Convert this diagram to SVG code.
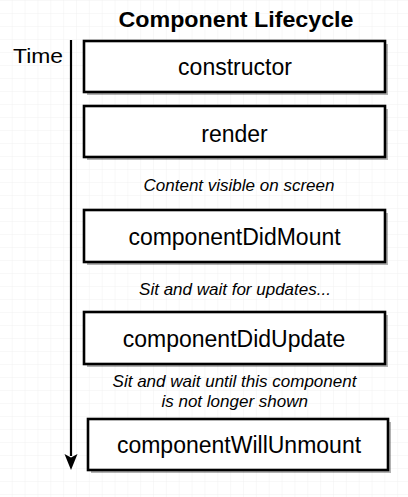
<svg xmlns="http://www.w3.org/2000/svg" width="408" height="497" viewBox="0 0 408 497">
<style>
.box{fill:#ffffff;stroke:#000000;stroke-width:2.6;}
.shadow{fill:#000000;opacity:0.3;}
.lbl{font-family:"Liberation Sans",Arial,Helvetica,sans-serif;font-size:23px;fill:#000;text-anchor:middle;}
.note{font-family:"Liberation Sans",Arial,Helvetica,sans-serif;font-size:17px;font-style:italic;fill:#000;text-anchor:middle;}
</style>
<defs>
<pattern id="grid" x="-0.15" y="1" width="12.85" height="13" patternUnits="userSpaceOnUse">
<path d="M12.85 0V13M0 13H12.85" fill="none" stroke="#eeeeee" stroke-width="0.8"/>
</pattern>
<marker id="arrow" viewBox="0 0 14 16" refX="7" refY="15" markerWidth="14" markerHeight="16" markerUnits="userSpaceOnUse" orient="auto-start-reverse">
<path d="M0 0L7 3.5L14 0L7 16Z" fill="#000"/>
</marker>
</defs>
<rect width="408" height="497" fill="#ffffff"/>
<rect width="408" height="497" fill="url(#grid)"/>
<text x="236" y="27" font-family="Liberation Sans,Arial,Helvetica,sans-serif" font-size="22" font-weight="bold" text-anchor="middle" textLength="235" lengthAdjust="spacingAndGlyphs">Component Lifecycle</text>
<text x="13" y="63" font-family="Liberation Sans,Arial,Helvetica,sans-serif" font-size="21" textLength="50" lengthAdjust="spacingAndGlyphs">Time</text>
<g id="connectors">
<line x1="71" y1="40" x2="71" y2="456" stroke="#000" stroke-width="2.2"/>
<path d="M64.5 454L71 457.5L77.5 454L71 470Z" fill="#000"/>
</g>
<g id="constructor">
<rect class="shadow" x="87" y="44" width="301" height="51"/>
<rect class="box" x="84" y="41" width="301" height="51"/>
<text class="lbl" x="235" y="75">constructor</text>
</g>
<g id="render">
<rect class="shadow" x="87" y="109" width="301" height="51"/>
<rect class="box" x="84" y="106" width="301" height="51"/>
<text class="lbl" x="234.5" y="141.5">render</text>
</g>
<g id="note1">
<text class="note" x="239" y="190.5">Content visible on screen</text>
</g>
<g id="componentDidMount">
<rect class="shadow" x="87" y="213" width="301" height="52"/>
<rect class="box" x="84" y="210" width="301" height="52"/>
<text class="lbl" x="234.5" y="245">componentDidMount</text>
</g>
<g id="note2">
<text class="note" x="235" y="295">Sit and wait for updates...</text>
</g>
<g id="componentDidUpdate">
<rect class="shadow" x="87" y="315" width="301" height="52"/>
<rect class="box" x="84" y="312" width="301" height="52"/>
<text class="lbl" x="234" y="347">componentDidUpdate</text>
</g>
<g id="note3">
<text class="note" x="234.5" y="387">Sit and wait until this component</text>
<text class="note" x="234.7" y="406.5">is not longer shown</text>
</g>
<g id="componentWillUnmount">
<rect class="shadow" x="91" y="422" width="300" height="51"/>
<rect class="box" x="88" y="419" width="300" height="51"/>
<text class="lbl" x="239" y="453">componentWillUnmount</text>
</g>
</svg>
